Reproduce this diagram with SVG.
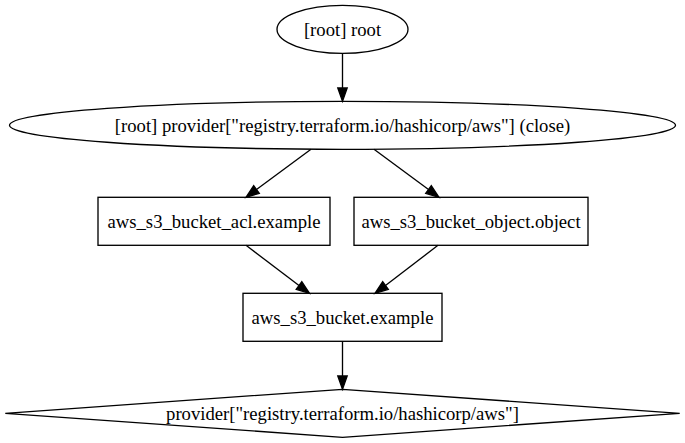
<svg xmlns="http://www.w3.org/2000/svg" width="685" height="443" viewBox="0 0 685 443">
<style>
.n{fill:none;stroke:#000;stroke-width:1.33}
.t{font-family:"Liberation Serif","Times New Roman",serif;font-size:18.67px;fill:#000;text-anchor:middle}
.e{stroke:#000;stroke-width:1.33;fill:none}
.h{fill:#000;stroke:#000;stroke-width:1.33}
</style>
<rect width="685" height="443" fill="#fff"/>
<g id="connectors">
<line class="e" x1="342.5" y1="53.3" x2="342.5" y2="88"/>
<polygon class="h" points="337.8,88 342.5,101.3 347.2,88"/>
<line class="e" x1="311" y1="149.3" x2="256.5" y2="189.5"/>
<polygon class="h" points="253.7,185.7 246,197.3 259.3,193.3"/>
<line class="e" x1="374" y1="149.3" x2="428.5" y2="189.5"/>
<polygon class="h" points="425.7,193.3 439,197.3 431.3,185.7"/>
<line class="e" x1="246" y1="245.3" x2="299" y2="285.5"/>
<polygon class="h" points="296.2,289.3 309.5,293.3 301.8,281.7"/>
<line class="e" x1="438" y1="245.3" x2="385.5" y2="285.5"/>
<polygon class="h" points="382.7,281.7 375,293.3 388.3,289.3"/>
<line class="e" x1="342.5" y1="341.3" x2="342.5" y2="376"/>
<polygon class="h" points="337.8,376 342.5,389.3 347.2,376"/>
</g>
<g id="root">
<ellipse class="n" cx="342.5" cy="29.3" rx="65.5" ry="24"/>
<text class="t" x="342.5" y="35.8">[root] root</text>
</g>
<g id="provider_close">
<ellipse class="n" cx="342.5" cy="125.3" rx="333" ry="24"/>
<text class="t" x="342.5" y="131.8">[root] provider["registry.terraform.io/hashicorp/aws"] (close)</text>
</g>
<g id="acl">
<rect class="n" x="98" y="197.3" width="232" height="48"/>
<text class="t" x="214" y="227.8">aws_s3_bucket_acl.example</text>
</g>
<g id="object">
<rect class="n" x="354" y="197.3" width="234" height="48"/>
<text class="t" x="471" y="227.8">aws_s3_bucket_object.object</text>
</g>
<g id="bucket">
<rect class="n" x="243" y="293.3" width="199" height="48"/>
<text class="t" x="342.5" y="323.8">aws_s3_bucket.example</text>
</g>
<g id="provider">
<polygon class="n" points="342.5,389.3 679.7,413.3 342.5,437.3 5.3,413.3"/>
<text class="t" x="342.5" y="419.8">provider["registry.terraform.io/hashicorp/aws"]</text>
</g>
</svg>
